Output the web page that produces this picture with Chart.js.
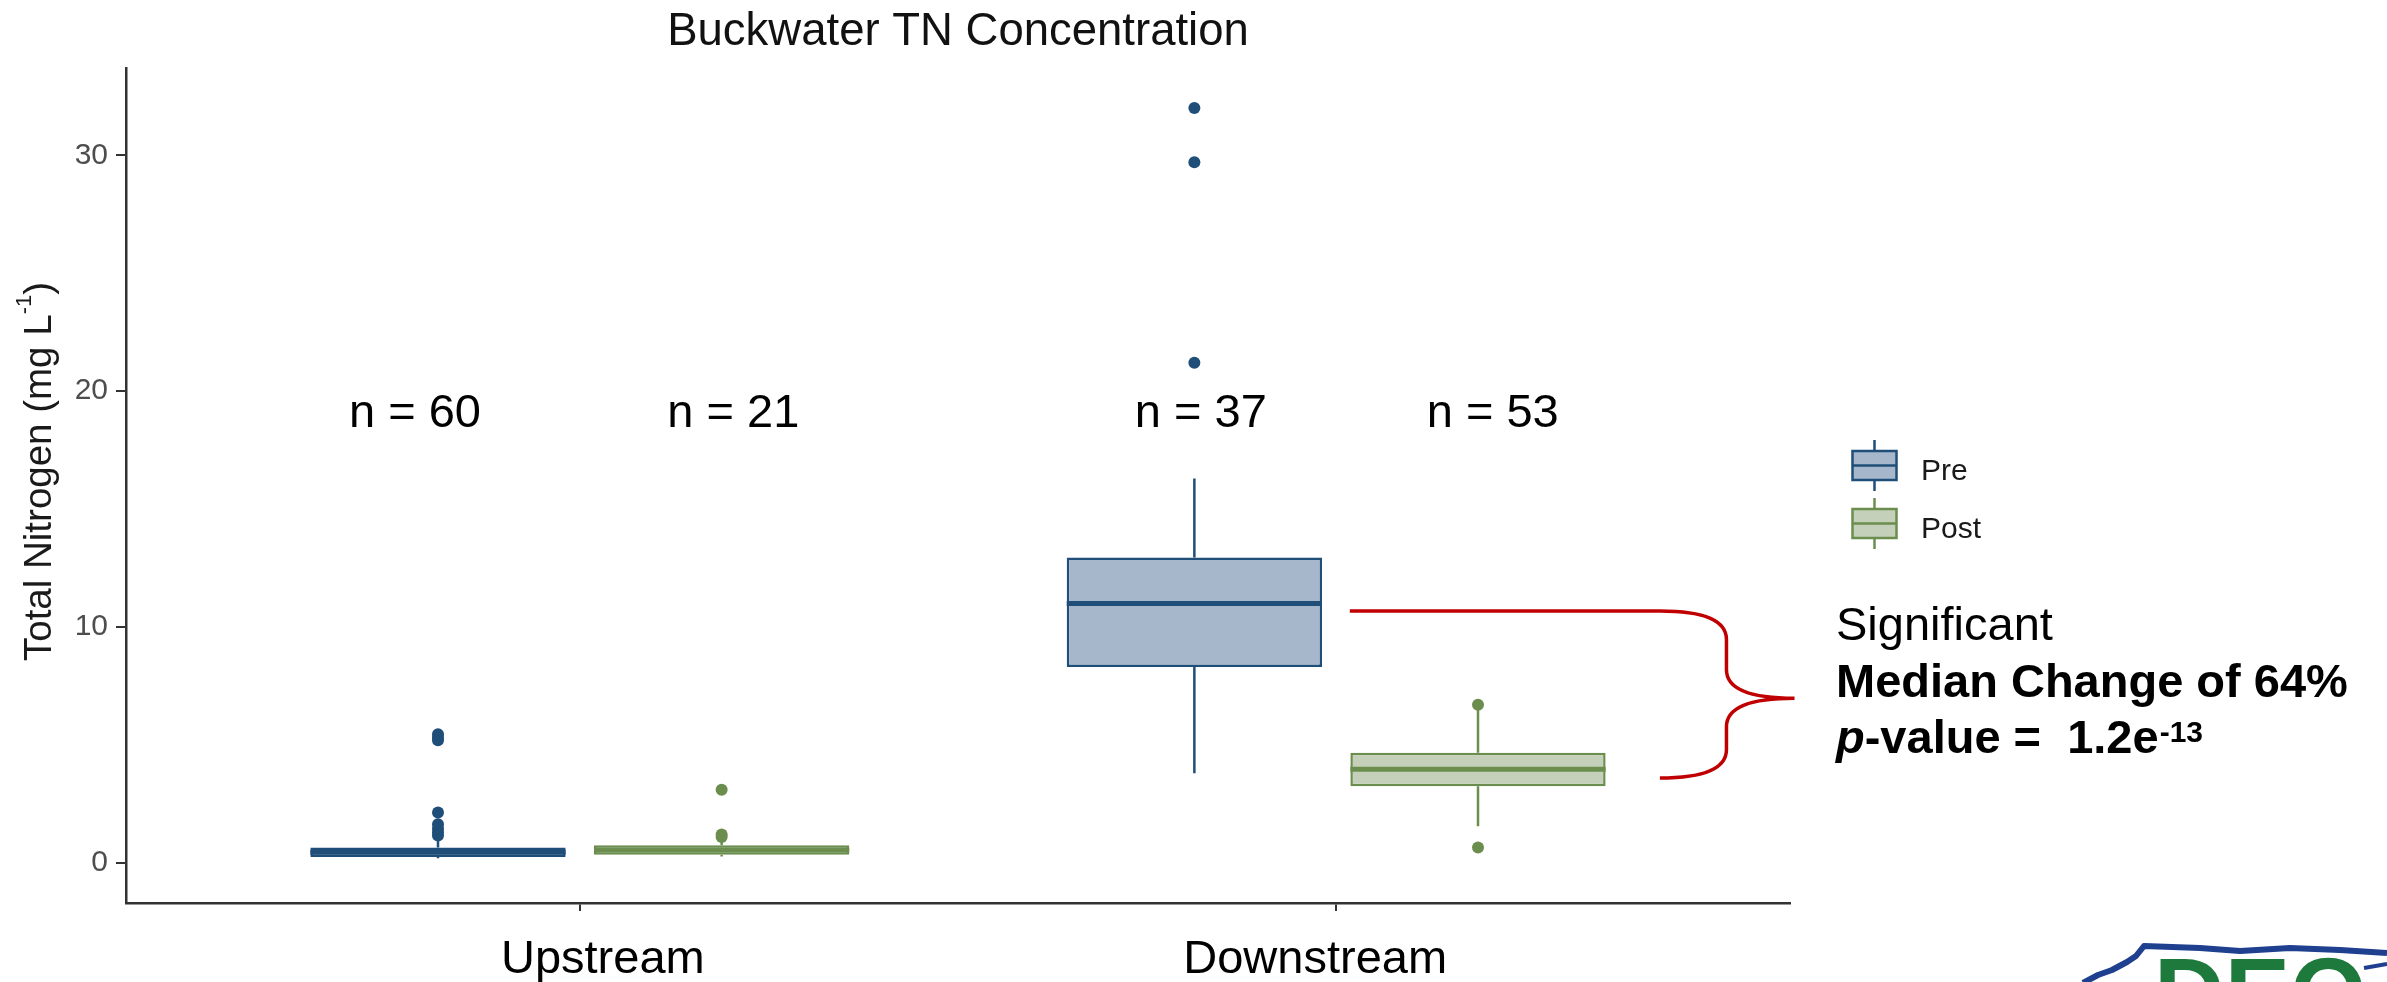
<!DOCTYPE html>
<html>
<head>
<meta charset="utf-8">
<title>Buckwater TN Concentration</title>
<script src="https://cdn.jsdelivr.net/npm/chart.js@4.4.0/dist/chart.umd.min.js"></script>
<style>
  html, body { margin: 0; padding: 0; background: #fff; }
  #wrap { width: 2387px; height: 982px; position: relative; }
</style>
</head>
<body>
<div id="wrap"><canvas id="tnChart"></canvas></div>
<script>
// ---- data ----
const categories = ["Upstream", "Downstream"];
const seriesNames = ["Pre", "Post"];

const preCounts = [60, 37];
const postCounts = [21, 53];

const preMin = [0.2, 3.8];
const preQ1 = [0.25, 8.3];
const preMedian = [0.45, 11.0];
const preQ3 = [0.65, 12.95];
const preMax = [1.0, 16.3];
const preOutliers = [[1.16, 1.3, 1.45, 1.64, 2.14, 5.2, 5.32, 5.45], [21.2, 29.7, 32.0]];

const postMin = [0.27, 1.55];
const postQ1 = [0.35, 3.25];
const postMedian = [0.55, 3.97];
const postQ3 = [0.75, 4.67];
const postMax = [0.95, 6.5];
const postOutliers = [[1.1, 1.2, 3.1], [0.65, 6.7]];

const yTicks = [0, 10, 20, 30];

// ---- layout / style ----
const FONT = '"Liberation Sans", Arial, sans-serif';
const DODGE = 0.1875;          // half of the dodge width
const HALF_BOX = 0.16875;      // half box width
const colors = {
  Pre:  { fill: "#a6b7cc", line: "#1f4e79" },
  Post: { fill: "#c4d0ba", line: "#6b8e4e" }
};
// annotation anchors (data units)
const countLabelX = [0.782, 1.203, 1.821, 2.207];
const countLabelY = 18.5;
const catLabelShift = [23, -21];   // px, labels sit a little off the ticks
const brace = { x0: 2.018, x1: 2.428, xs: 2.516, xt: 2.606, yTop: 10.68, yTip: 6.98, yBot: 3.6 };

const pos = (i, off) => i + 1 + off;

function boxSet(name, off, q1, q3) {
  return {
    type: "bar",
    label: name,
    data: categories.map((c, i) => ({ x: pos(i, off), y: [q1[i], q3[i]] })),
    backgroundColor: colors[name].fill,
    borderColor: colors[name].line,
    borderWidth: 2.5,
    borderSkipped: false,
    grouped: false,
    categoryPercentage: 1,
    barPercentage: 0.9,
    order: 10
  };
}

function medianSet(name, off, med) {
  const pts = [];
  categories.forEach((c, i) => {
    pts.push({ x: pos(i, off) - HALF_BOX, y: med[i] });
    pts.push({ x: pos(i, off) + HALF_BOX, y: med[i] });
    pts.push({ x: pos(i, off), y: null });
  });
  return {
    type: "line", label: name + " median", data: pts,
    borderColor: colors[name].line, borderWidth: 5, pointRadius: 0,
    borderCapStyle: "butt", spanGaps: false, order: 5
  };
}

function whiskerSet(name, off, lo, q1, q3, hi) {
  const pts = [];
  categories.forEach((c, i) => {
    const x = pos(i, off);
    pts.push({ x, y: q3[i] }, { x, y: hi[i] }, { x, y: null });
    pts.push({ x, y: q1[i] }, { x, y: lo[i] }, { x, y: null });
  });
  return {
    type: "line", label: name + " whisker", data: pts,
    borderColor: colors[name].line, borderWidth: 2.5, pointRadius: 0,
    borderCapStyle: "butt", spanGaps: false, order: 6
  };
}

function outlierSet(name, off, outs) {
  const pts = [];
  outs.forEach((list, i) => list.forEach(v => pts.push({ x: pos(i, off), y: v })));
  return {
    type: "scatter", label: name + " outliers", data: pts,
    backgroundColor: colors[name].line, borderWidth: 0,
    pointRadius: 6, pointHoverRadius: 6, order: 1
  };
}

const datasets = [
  boxSet("Pre", -DODGE, preQ1, preQ3),
  boxSet("Post", DODGE, postQ1, postQ3),
  whiskerSet("Pre", -DODGE, preMin, preQ1, preQ3, preMax),
  whiskerSet("Post", DODGE, postMin, postQ1, postQ3, postMax),
  medianSet("Pre", -DODGE, preMedian),
  medianSet("Post", DODGE, postMedian),
  outlierSet("Pre", -DODGE, preOutliers),
  outlierSet("Post", DODGE, postOutliers)
];

function drawKey(ctx, cx, top, c) {
  ctx.strokeStyle = c.line;
  ctx.lineWidth = 2.5;
  ctx.beginPath();
  ctx.moveTo(cx, top);
  ctx.lineTo(cx, top + 51);
  ctx.stroke();
  ctx.fillStyle = c.fill;
  ctx.fillRect(cx - 22, top + 11, 44, 29);
  ctx.strokeRect(cx - 22, top + 11, 44, 29);
  ctx.beginPath();
  ctx.moveTo(cx - 22, top + 25.5);
  ctx.lineTo(cx + 22, top + 25.5);
  ctx.stroke();
}

// y axis title with a real superscript
function drawYTitle(ctx, cx, cy) {
  const main = "Total Nitrogen (mg L", sup = "-1", tail = ")";
  const fMain = `38.5px ${FONT}`, fSup = `22px ${FONT}`;
  ctx.save();
  ctx.font = fMain;
  const wMain = ctx.measureText(main).width, wTail = ctx.measureText(tail).width;
  ctx.font = fSup;
  const wSup = ctx.measureText(sup).width;
  const total = wMain + wSup + wTail;
  ctx.translate(cx, cy);
  ctx.rotate(-Math.PI / 2);
  ctx.fillStyle = "#1a1a1a";
  ctx.textAlign = "left";
  ctx.textBaseline = "alphabetic";
  let px = -total / 2;
  ctx.font = fMain;
  ctx.fillText(main, px, 0);
  px += wMain;
  ctx.font = fSup;
  ctx.fillText(sup, px, -20);
  px += wSup;
  ctx.font = fMain;
  ctx.fillText(tail, px, 0);
  ctx.restore();
}

function drawLogo(ctx) {
  ctx.save();
  ctx.strokeStyle = "#1f3f8f";
  ctx.lineWidth = 6;
  ctx.lineJoin = "round";
  ctx.beginPath();
  ctx.moveTo(2083, 983);
  ctx.lineTo(2098, 975);
  ctx.lineTo(2112, 970);
  ctx.lineTo(2127, 962);
  ctx.lineTo(2136, 956);
  ctx.lineTo(2144, 946);
  ctx.lineTo(2200, 948);
  ctx.lineTo(2240, 951);
  ctx.lineTo(2290, 948);
  ctx.lineTo(2340, 950);
  ctx.lineTo(2387, 953);
  ctx.stroke();
  ctx.lineWidth = 4;
  ctx.beginPath();
  ctx.moveTo(2364, 968);
  ctx.lineTo(2387, 964);
  ctx.stroke();
  ctx.fillStyle = "#1e7a3c";
  ctx.font = `bold 98px ${FONT}`;
  ctx.textAlign = "left";
  ctx.textBaseline = "alphabetic";
  ctx.fillText("DEQ", 2154, 1027);
  ctx.restore();
}

const annotations = {
  id: "annotations",
  afterDraw(chart) {
    const { ctx, chartArea } = chart;
    const x = chart.scales.x, y = chart.scales.y;
    ctx.save();

    // y axis title (slightly above the panel centre, as in the original)
    drawYTitle(ctx, 51, (chartArea.top + chartArea.bottom) / 2 - 14);

    // n = labels
    const counts = [preCounts[0], postCounts[0], preCounts[1], postCounts[1]];
    ctx.fillStyle = "#000";
    ctx.font = `47px ${FONT}`;
    ctx.textAlign = "center";
    ctx.textBaseline = "alphabetic";
    counts.forEach((n, i) => {
      ctx.fillText("n = " + n, x.getPixelForValue(countLabelX[i]), y.getPixelForValue(countLabelY));
    });

    // category labels
    categories.forEach((c, i) => {
      ctx.fillText(c, x.getPixelForValue(i + 1) + catLabelShift[i], chartArea.bottom + 69.5);
    });

    // legend
    const keyCx = chartArea.right + 84.5;
    drawKey(ctx, keyCx, 440, colors.Pre);
    drawKey(ctx, keyCx, 498, colors.Post);
    ctx.fillStyle = "#1a1a1a";
    ctx.font = `30px ${FONT}`;
    ctx.textAlign = "left";
    ctx.fillText(seriesNames[0], chartArea.right + 131, 480);
    ctx.fillText(seriesNames[1], chartArea.right + 131, 538);

    // brace
    const X0 = x.getPixelForValue(brace.x0), X1 = x.getPixelForValue(brace.x1);
    const XS = x.getPixelForValue(brace.xs), XT = x.getPixelForValue(brace.xt);
    const YT = y.getPixelForValue(brace.yTop), YM = y.getPixelForValue(brace.yTip);
    const YB = y.getPixelForValue(brace.yBot);
    const r = 28.5;
    ctx.strokeStyle = "#c00000";
    ctx.lineWidth = 3.5;
    ctx.beginPath();
    ctx.moveTo(X0, YT);
    ctx.lineTo(X1, YT);
    ctx.quadraticCurveTo(XS, YT, XS, YT + r);
    ctx.lineTo(XS, YM - r);
    ctx.quadraticCurveTo(XS, YM, XT, YM);
    ctx.quadraticCurveTo(XS, YM, XS, YM + r);
    ctx.lineTo(XS, YB - r);
    ctx.quadraticCurveTo(XS, YB, X1, YB);
    ctx.stroke();

    // significance text
    const tx = chartArea.right + 46;
    ctx.fillStyle = "#000";
    ctx.font = `47px ${FONT}`;
    ctx.fillText("Significant", tx, 640);
    ctx.font = `bold 47px ${FONT}`;
    ctx.fillText("Median Change of 64%", tx, 697);
    ctx.font = `italic bold 47px ${FONT}`;
    ctx.fillText("p", tx, 753);
    let cx = tx + ctx.measureText("p").width;
    ctx.font = `bold 47px ${FONT}`;
    const mid = "-value =  1.2e";
    ctx.fillText(mid, cx, 753);
    cx += ctx.measureText(mid).width;
    ctx.font = `bold 30px ${FONT}`;
    ctx.fillText("-13", cx + 1, 742);

    drawLogo(ctx);
    ctx.restore();
  }
};

new Chart(document.getElementById("tnChart"), {
  type: "bar",
  data: { datasets },
  options: {
    responsive: true,
    maintainAspectRatio: false,
    devicePixelRatio: 1,
    animation: false,
    layout: { padding: { left: 0, right: 597, top: 0, bottom: 0 } },
    plugins: {
      legend: { display: false },
      tooltip: { enabled: false },
      title: {
        display: true,
        text: "Buckwater TN Concentration",
        fullSize: false,
        color: "#111",
        font: { family: FONT, size: 45.5, weight: "normal" },
        padding: { top: 5, bottom: 8.4 }
      }
    },
    scales: {
      x: {
        type: "linear",
        min: 0.4,
        max: 2.6,
        offset: false,
        afterBuildTicks: s => { s.ticks = categories.map((c, i) => ({ value: i + 1 })); },
        afterFit: s => { s.height = 79; },
        ticks: { display: false },
        grid: { display: true, offset: false, drawOnChartArea: false, drawTicks: true, tickLength: 8, color: "#333", lineWidth: 2 },
        border: { display: true, color: "#333", width: 2.5 }
      },
      y: {
        type: "linear",
        min: -1.7,
        max: 33.7,
        afterBuildTicks: s => { s.ticks = yTicks.map(v => ({ value: v })); },
        afterFit: s => { s.width = 126; },
        ticks: { color: "#4d4d4d", font: { family: FONT, size: 30 }, padding: 8 },
        grid: { display: true, drawOnChartArea: false, drawTicks: true, tickLength: 10, color: "#333", lineWidth: 2 },
        border: { display: true, color: "#333", width: 2.5 }
      }
    }
  },
  plugins: [annotations]
});
</script>
</body>
</html>
